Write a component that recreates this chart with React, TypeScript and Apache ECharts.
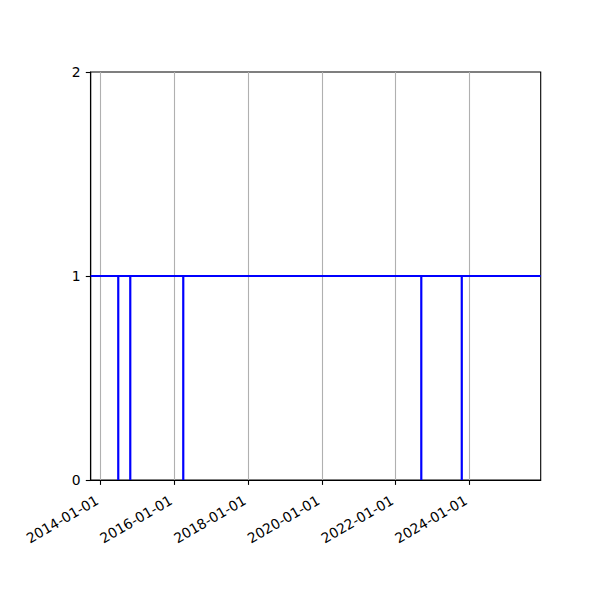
import React, { useEffect, useRef } from "react";
import * as echarts from "echarts";

// Series: time stamps and values (step line that drops to 0 on single days)
const dates = [
  "2013-09-24",
  "2014-06-24", "2014-06-24", "2014-06-24",
  "2014-10-21", "2014-10-21", "2014-10-21",
  "2016-03-29", "2016-03-29", "2016-03-29",
  "2022-09-12", "2022-09-12", "2022-09-12",
  "2023-10-18", "2023-10-18", "2023-10-18",
  "2025-12-08",
];
const values = [1, 1, 0, 1, 1, 0, 1, 1, 0, 1, 1, 0, 1, 1, 0, 1, 1];

const xTicks = ["2014-01-01", "2016-01-01", "2018-01-01", "2020-01-01", "2022-01-01", "2024-01-01"];
const xMin = "2013-09-24";
const xMax = "2025-12-08";

function toTs(s: string): number {
  const [y, m, d] = s.split("-").map(Number);
  return Date.UTC(y, m - 1, d);
}
function pad(n: number) {
  return n < 10 ? "0" + n : "" + n;
}
function fmt(v: number) {
  const d = new Date(v);
  return d.getUTCFullYear() + "-" + pad(d.getUTCMonth() + 1) + "-" + pad(d.getUTCDate());
}

export default function App() {
  const ref = useRef<HTMLDivElement>(null);
  useEffect(() => {
    if (!ref.current) return;
    const chart = echarts.init(ref.current, null, { renderer: "svg" });
    const font = "DejaVu Sans";
    chart.setOption({
      animation: false,
      backgroundColor: "#ffffff",
      grid: {
        left: 90.7,
        right: 59.3,
        top: 72,
        bottom: 120,
        show: true,
        borderColor: "#000000",
        borderWidth: 1.1,
        backgroundColor: "transparent",
      },
      xAxis: {
        type: "value",
        min: toTs(xMin),
        max: toTs(xMax),
        axisLine: { show: true, lineStyle: { color: "#000", width: 1.1 } },
        axisTick: {
          show: true,
          inside: false,
          length: 4.9,
          lineStyle: { color: "#000", width: 1.1 },
          customValues: xTicks.map(toTs),
        },
        axisLabel: {
          show: true,
          customValues: xTicks.map(toTs),
          formatter: (v: number) => fmt(v),
          rotate: 30,
          margin: 17,
          padding: [0, 4, 0, 0],
          fontFamily: font,
          fontSize: 13.9,
          color: "#000",
          hideOverlap: false,
          showMinLabel: true,
          showMaxLabel: true,
        },
        splitLine: { show: true, lineStyle: { color: "#b0b0b0", width: 1.1 } },
      },
      yAxis: {
        type: "value",
        min: 0,
        max: 2,
        interval: 1,
        axisLine: { show: true, lineStyle: { color: "#000", width: 1.1 } },
        axisTick: {
          show: true,
          inside: false,
          length: 4.9,
          lineStyle: { color: "#000", width: 1.1 },
        },
        axisLabel: {
          margin: 10,
          fontFamily: font,
          fontSize: 13.9,
          color: "#000",
        },
        splitLine: { show: false },
      },
      series: [
        {
          type: "line",
          data: dates.map((d, i) => [toTs(d), values[i]]),
          showSymbol: false,
          symbol: "none",
          lineStyle: { color: "#0000ff", width: 2.2 },
          itemStyle: { color: "#0000ff" },
        },
      ],
    });
    return () => chart.dispose();
  }, []);
  return (
    <div
      ref={ref}
      style={{ position: "absolute", left: 0, top: 0, width: 600, height: 600 }}
    />
  );
}
